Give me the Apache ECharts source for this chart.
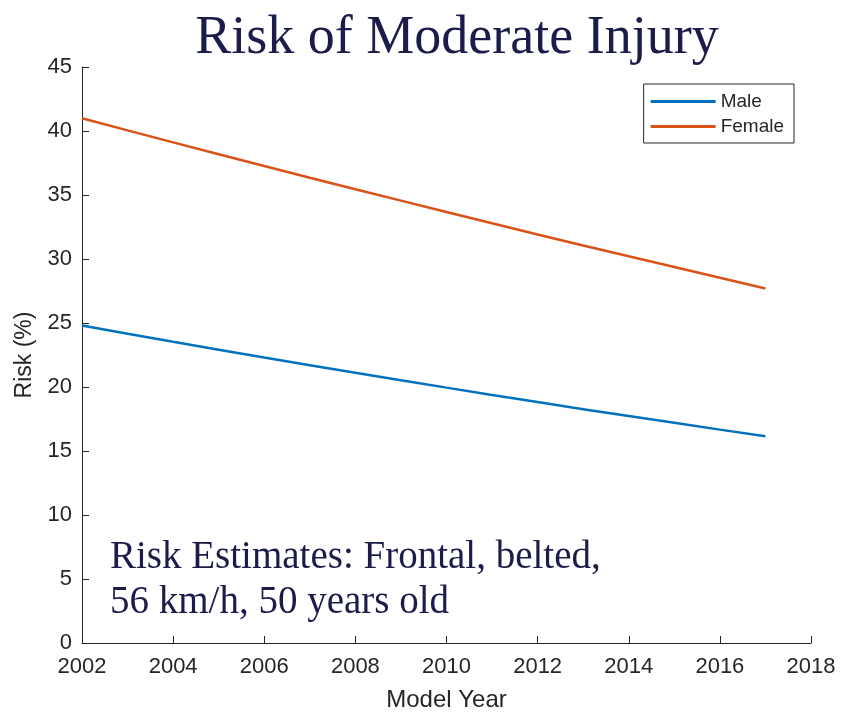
<!DOCTYPE html>
<html>
<head>
<meta charset="utf-8">
<script src="https://cdn.jsdelivr.net/npm/echarts@6/dist/echarts.min.js"></script>
<style>
  html, body { margin: 0; padding: 0; background: #fff; }
  #chart-container { width: 841px; height: 714px; }
</style>
</head>
<body>
<div id="chart-container"></div>
<script>
// model years and risk estimates (%)
const years = [2002, 2003, 2004, 2005, 2006, 2007, 2008, 2009, 2010, 2011, 2012, 2013, 2014, 2015, 2016, 2017];
const male = [24.8, 24.16, 23.53, 22.91, 22.30, 21.70, 21.11, 20.53, 19.95, 19.38, 18.82, 18.27, 17.73, 17.20, 16.67, 16.15];
const female = [41.0, 40.05, 39.11, 38.18, 37.26, 36.35, 35.45, 34.56, 33.67, 32.79, 31.92, 31.06, 30.21, 29.37, 28.53, 27.70];
const yTicks = [0, 5, 10, 15, 20, 25, 30, 35, 40, 45];
const xTicks = [2002, 2004, 2006, 2008, 2010, 2012, 2014, 2016, 2018];

let dom = document.getElementById('chart-container');
let myChart = echarts.init(dom, null, { renderer: 'canvas' });

const axisColor = '#262626';
const navy = '#1b1c4a';

let option = {
  animation: false,
  backgroundColor: '#fff',
  title: {
    text: 'Risk of Moderate Injury',
    left: 452,
    textAlign: 'center',
    top: 7,
    textStyle: {
      fontFamily: 'Liberation Serif',
      fontWeight: 'normal',
      fontSize: 54,
      color: navy
    }
  },
  grid: { left: 82, right: 30, top: 67, bottom: 71, outerBoundsMode: 'none', containLabel: false },
  legend: {
    orient: 'vertical',
    right: 47,
    top: 84,
    padding: [8, 10, 7, 7],
    borderColor: axisColor,
    borderWidth: 1,
    itemWidth: 65,
    itemHeight: 3,
    itemGap: 6,
    icon: 'rect',
    textStyle: { fontFamily: 'Liberation Sans', fontSize: 19, color: axisColor },
    data: ['Male', 'Female']
  },
  xAxis: {
    type: 'value',
    min: 2002,
    max: 2018,
    interval: 2,
    name: 'Model Year',
    nameLocation: 'middle',
    nameGap: 45,
    nameTextStyle: { fontFamily: 'Liberation Sans', fontSize: 24, color: axisColor },
    axisLine: { lineStyle: { color: axisColor, width: 1 } },
    axisTick: { inside: true, length: 7, lineStyle: { color: axisColor } },
    axisLabel: {
      fontFamily: 'Liberation Sans', fontSize: 22, color: axisColor, margin: 13,
      formatter: v => xTicks.includes(v) ? String(v) : ''
    },
    splitLine: { show: false }
  },
  yAxis: {
    type: 'value',
    min: 0,
    max: 45,
    interval: 5,
    name: 'Risk (%)',
    nameLocation: 'middle',
    nameGap: 44,
    nameRotate: 90,
    nameTextStyle: { fontFamily: 'Liberation Sans', fontSize: 23, color: axisColor },
    axisLine: { show: true, lineStyle: { color: axisColor, width: 1 } },
    axisTick: { show: true, inside: true, length: 7, lineStyle: { color: axisColor } },
    axisLabel: {
      fontFamily: 'Liberation Sans', fontSize: 22, color: axisColor, margin: 10,
      formatter: v => yTicks.includes(v) ? String(v) : ''
    },
    splitLine: { show: false }
  },
  graphic: [
    {
      type: 'text',
      left: 110,
      top: 535,
      style: {
        text: 'Risk Estimates: Frontal, belted,\n56 km/h, 50 years old',
        fontFamily: 'Liberation Serif',
        fontSize: 39,
        lineHeight: 45,
        fill: navy
      }
    }
  ],
  series: [
    {
      name: 'Male',
      type: 'line',
      showSymbol: false,
      color: '#0072BD',
      lineStyle: { width: 2.5 },
      data: years.map((y, i) => [y, male[i]])
    },
    {
      name: 'Female',
      type: 'line',
      showSymbol: false,
      color: '#D95319',
      lineStyle: { width: 2.5 },
      data: years.map((y, i) => [y, female[i]])
    }
  ]
};

myChart.setOption(option);
window.addEventListener('resize', myChart.resize);
</script>
</body>
</html>
